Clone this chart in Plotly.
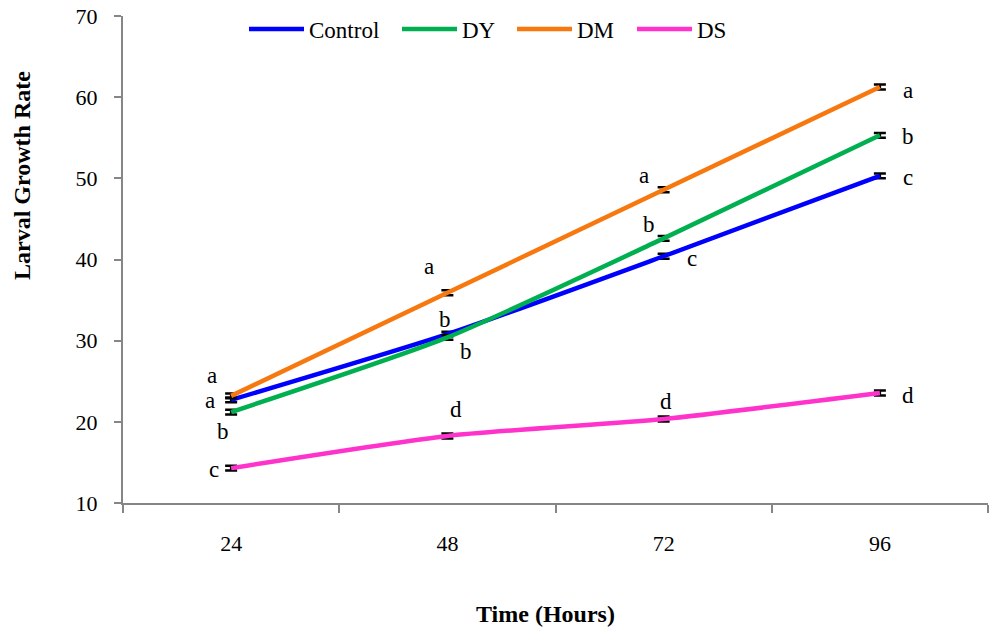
import plotly.graph_objects as go

hours = [24, 48, 72, 96]
series_names = ["Control", "DY", "DM", "DS"]
control = [22.7, 30.8, 40.4, 50.3]
dy = [21.2, 30.4, 42.6, 55.3]
dm = [23.2, 35.9, 48.6, 61.25]
ds = [14.3, 18.26, 20.35, 23.55]
errors = {"Control": [0.3, 0.3, 0.3, 0.3], "DY": [0.3, 0.3, 0.3, 0.3],
          "DM": [0.3, 0.3, 0.3, 0.3], "DS": [0.3, 0.3, 0.3, 0.3]}
letters = {
    "Control": ["a", "b", "c", "c"],
    "DY": ["b", "b", "b", "b"],
    "DM": ["a", "a", "a", "a"],
    "DS": ["c", "d", "d", "d"],
}
y_ticks = [10, 20, 30, 40, 50, 60, 70]

values = {"Control": control, "DY": dy, "DM": dm, "DS": ds}
colors = {"Control": "#0000FF", "DY": "#00B050", "DM": "#F7780F", "DS": "#FF33CC"}
# pixel offsets of letter labels relative to each point (style only)
offsets = {
    "Control": [(-21, -1), (-2, 15), (28, -2), (28, -2)],
    "DY": [(-8, -19), (19, -14), (-15, 14), (28, -1)],
    "DM": [(-19, 20), (-18, 26), (-20, 14), (28, -3)],
    "DS": [(-17, -1), (9, 26), (2, 17), (28, -2)],
}
# legend left pixel positions (style only)
legend_left = {"Control": 244, "DY": 397, "DM": 512, "DS": 632}

FONT = "Liberation Serif, Times New Roman, serif"
W, H = 989, 628
L, R, T, B = 123, 1, 16, 125
pw, ph = W - L - R, H - T - B

fig = go.Figure()
legend_layouts = {}
for k, name in enumerate(series_names):
    lg = "legend" if k == 0 else f"legend{k + 1}"
    fig.add_trace(go.Scatter(
        x=hours, y=values[name], name=name, mode="lines", legend=lg,
        line=dict(color=colors[name], width=4.5, shape="spline", smoothing=0.6),
        error_y=dict(type="data", array=errors[name], visible=True,
                     color="black", thickness=2.5, width=6),
    ))
    legend_layouts[lg] = dict(
        orientation="h", x=(legend_left[name] - L) / pw, xanchor="left",
        y=(H - B - 29) / ph, yanchor="middle",
        font=dict(family=FONT, size=23, color="black"),
        bgcolor="rgba(0,0,0,0)", itemwidth=55)

annotations = []
for name in series_names:
    for i, h in enumerate(hours):
        dx, dy_ = offsets[name][i]
        annotations.append(dict(
            x=h, y=values[name][i], text=letters[name][i], showarrow=False,
            xshift=dx, yshift=dy_, font=dict(family=FONT, size=23, color="black"),
            xanchor="center", yanchor="middle"))

titles = [
    dict(text="<b>Larval Growth Rate</b>", px=22, py=176, textangle=-90),
    dict(text="<b>Time (Hours)</b>", px=545, py=614, textangle=0),
]
for t in titles:
    annotations.append(dict(text=t["text"], x=(t["px"] - L) / pw, y=(H - B - t["py"]) / ph,
                            xref="paper", yref="paper", showarrow=False,
                            textangle=t["textangle"], xanchor="center", yanchor="middle",
                            font=dict(family=FONT, size=24, color="black")))

fig.update_layout(
    width=W, height=H,
    margin=dict(l=L, r=R, t=T, b=B),
    paper_bgcolor="white", plot_bgcolor="white",
    font=dict(family=FONT, size=22, color="black"),
    showlegend=True,
    annotations=annotations,
    xaxis=dict(range=[12, 108], tickvals=hours, ticktext=[str(h) for h in hours],
               ticks="", showgrid=False, zeroline=False,
               showline=True, linecolor="#868686", linewidth=2,
               ticklabelstandoff=20,
               tickfont=dict(family=FONT, size=22, color="black"),
               minor=dict(tickvals=[12, 36, 60, 84, 108], ticks="outside",
                          ticklen=8, tickcolor="#868686", tickwidth=2, showgrid=False)),
    yaxis=dict(range=[10, 70], tickvals=y_ticks, ticks="outside", ticklen=7,
               tickcolor="#868686", tickwidth=2, showgrid=False, zeroline=False,
               showline=True, linecolor="#868686", linewidth=2,
               ticklabelstandoff=12,
               tickfont=dict(family=FONT, size=22, color="black")),
)
fig.update_layout(**legend_layouts)

fig.write_html("out.html")
